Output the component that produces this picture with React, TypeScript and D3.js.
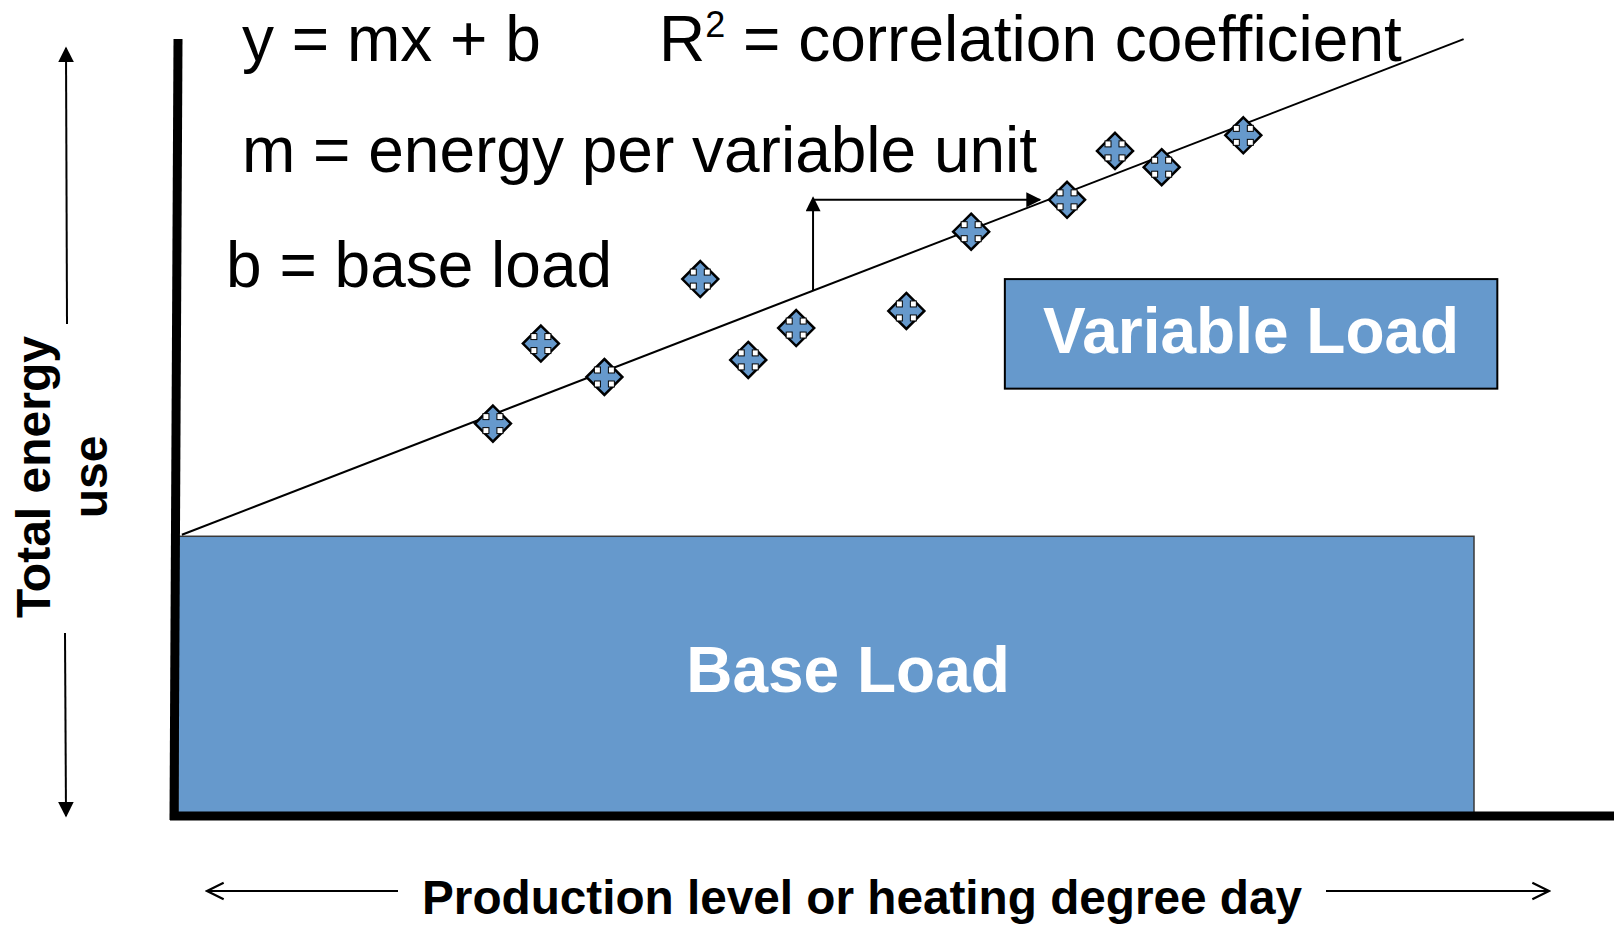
import React from "react";
import * as d3 from "d3";

// ---- data ----
const pointX = [24.3, 28.0, 32.9, 40.3, 44.0, 47.7, 56.2, 61.2, 68.6, 72.3, 75.9, 82.2];
const pointY = [50.5, 60.8, 56.5, 69.1, 58.7, 62.8, 65.0, 75.2, 79.3, 85.6, 83.5, 87.6];
const baseLoad = 36;
const slope = 0.645;
const lineRange = [0.3, 99.2];
const baseRange = [0, 100];
const variableBox = { x0: 63.8, x1: 101.8, y0: 55.0, y1: 69.1 };
const stepX = [49.0, 66.5];
const stepTopY = 79.3;

const equationTexts = ["y = mx + b", "m = energy per variable unit", "b = base load"];
const yLabelLines = ["Total energy", "use"];
const xLabel = "Production level or heating degree day";

const W = 1614;
const H = 927;
const BLUE = "#6699CC";
const FONT = "Arial, 'Liberation Sans', Helvetica, sans-serif";
const FS = 64;

export default function App() {
  const x = d3.scaleLinear().domain([0, 100]).range([178, 1474]);
  const y = d3.scaleLinear().domain([0, 100]).range([816, 39]);

  const regLine = d3
    .line<number>()
    .x((d) => x(d))
    .y((d) => y(baseLoad + slope * d));

  const pts = pointX.map((v, i) => ({ x: v, y: pointY[i] }));
  const r = 18;
  const diamond = `M0,${-r}L${r},0L0,${r}L${-r},0Z`;

  const stepBaseY = baseLoad + slope * stepX[0];

  return (
    <svg
      width={W}
      height={H}
      style={{ position: "absolute", left: 0, top: 0, background: "#fff" }}
      fontFamily={FONT}
    >
      <defs>
        <marker id="tri" viewBox="0 0 10 10" refX="9" refY="5" markerWidth="16" markerHeight="15" orient="auto" markerUnits="userSpaceOnUse">
          <path d="M0,0L10,5L0,10Z" fill="#000" />
        </marker>
        <marker id="triBig" viewBox="0 0 10 10" refX="9" refY="5" markerWidth="16" markerHeight="16" orient="auto" markerUnits="userSpaceOnUse">
          <path d="M0,0L10,5L0,10Z" fill="#000" />
        </marker>
        <marker id="chev" viewBox="0 0 12 12" refX="11" refY="6" markerWidth="20" markerHeight="20" orient="auto" markerUnits="userSpaceOnUse">
          <path d="M1,1L11,6L1,11" fill="none" stroke="#000" strokeWidth="1.3" />
        </marker>
      </defs>

      {/* base load rectangle */}
      <rect
        x={x(baseRange[0])}
        y={y(baseLoad)}
        width={x(baseRange[1]) - x(baseRange[0])}
        height={y(0) - y(baseLoad)}
        fill={BLUE}
        stroke="#3a3a3a"
        strokeWidth={1.5}
      />
      <text x={848} y={692} textAnchor="middle" fill="#fff" fontWeight="bold" fontSize={FS}>
        Base Load
      </text>

      {/* variable load box */}
      <rect
        x={x(variableBox.x0)}
        y={y(variableBox.y1)}
        width={x(variableBox.x1) - x(variableBox.x0)}
        height={y(variableBox.y0) - y(variableBox.y1)}
        fill={BLUE}
        stroke="#000"
        strokeWidth={2}
      />
      <text
        x={(x(variableBox.x0) + x(variableBox.x1)) / 2}
        y={353}
        textAnchor="middle"
        fill="#fff"
        fontWeight="bold"
        fontSize={FS}
      >
        Variable Load
      </text>

      {/* regression line */}
      <path d={regLine(lineRange) || ""} fill="none" stroke="#000" strokeWidth={2} />

      {/* step arrows */}
      <line
        x1={x(stepX[0])}
        y1={y(stepBaseY)}
        x2={x(stepX[0])}
        y2={y(stepTopY) - 2}
        stroke="#000"
        strokeWidth={2}
        markerEnd="url(#tri)"
      />
      <line
        x1={x(stepX[0])}
        y1={y(stepTopY)}
        x2={x(stepX[1])}
        y2={y(stepTopY)}
        stroke="#000"
        strokeWidth={2}
        markerEnd="url(#tri)"
      />

      {/* data markers */}
      {pts.map((p, i) => (
        <g key={i} transform={`translate(${x(p.x)},${y(p.y)})`}>
          <path d={diamond} fill={BLUE} stroke="#000" strokeWidth={2.5} strokeLinejoin="miter" />
          {[
            [-1, -1],
            [1, -1],
            [-1, 1],
            [1, 1],
          ].map(([sx, sy], j) => (
            <rect
              key={j}
              x={sx * 7 - 3}
              y={sy * 7 - 3}
              width={6}
              height={6}
              fill="#fff"
              stroke="#000"
              strokeWidth={1}
            />
          ))}
          <path d="M0,-14L-3.5,-9.5L3.5,-9.5Z M0,14L-3.5,9.5L3.5,9.5Z M-14,0L-9.5,-3.5L-9.5,3.5Z M14,0L9.5,-3.5L9.5,3.5Z" fill={BLUE} />
        </g>
      ))}

      {/* axes */}
      <line x1={178} y1={39} x2={174} y2={820} stroke="#000" strokeWidth={9} />
      <line x1={170} y1={816} x2={W} y2={816} stroke="#000" strokeWidth={9} />

      {/* equation texts */}
      <text x={242} y={61} fontSize={FS} fill="#000">
        {equationTexts[0]}
      </text>
      <text x={659} y={61} fontSize={FS} fill="#000">
        R
        <tspan fontSize={36} dy={-24}>
          2
        </tspan>
        <tspan dy={24}> = correlation coefficient</tspan>
      </text>
      <text x={242} y={172} fontSize={FS} fill="#000">
        {equationTexts[1]}
      </text>
      <text x={226} y={287} fontSize={FS} fill="#000">
        {equationTexts[2]}
      </text>

      {/* y label with arrows */}
      <line x1={67} y1={324} x2={66} y2={48} stroke="#000" strokeWidth={2} markerEnd="url(#triBig)" />
      <line x1={65} y1={633} x2={66} y2={816} stroke="#000" strokeWidth={2} markerEnd="url(#triBig)" />
      <g transform="translate(0,477) rotate(-90)">
        <text x={0} y={50} textAnchor="middle" fontWeight="bold" fontSize={48} fill="#000">
          {yLabelLines[0]}
        </text>
        <text x={0} y={107} textAnchor="middle" fontWeight="bold" fontSize={48} fill="#000">
          {yLabelLines[1]}
        </text>
      </g>

      {/* x label with arrows */}
      <line x1={398} y1={891} x2={207} y2={891} stroke="#000" strokeWidth={2} markerEnd="url(#chev)" />
      <line x1={1326} y1={891} x2={1549} y2={891} stroke="#000" strokeWidth={2} markerEnd="url(#chev)" />
      <text
        x={862}
        y={914}
        textAnchor="middle"
        fontWeight="bold"
        fontSize={48}
        fill="#000"
        textLength={880}
        lengthAdjust="spacingAndGlyphs"
      >
        {xLabel}
      </text>
    </svg>
  );
}
